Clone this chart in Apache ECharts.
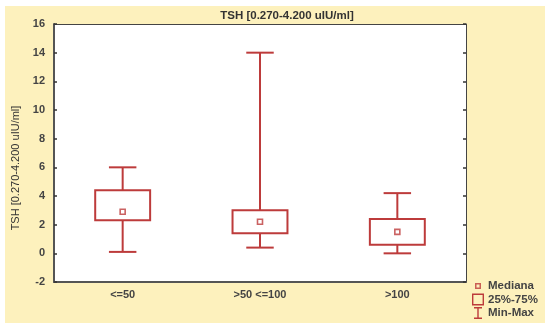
<!DOCTYPE html>
<html>
<head>
<meta charset="utf-8">
<script src="https://cdn.jsdelivr.net/npm/echarts@6/dist/echarts.min.js"></script>
<style>html,body{margin:0;padding:0;background:#fff}#c{width:550px;height:328px}</style>
</head>
<body>
<div id="c"></div>
<script>
var categories = ['<=50', '>50 <=100', '>100'];
var minVals = [0.1, 0.4, 0.0];
var q1Vals = [2.3, 1.4, 0.6];
var medianVals = [2.9, 2.2, 1.5];
var q3Vals = [4.4, 3.0, 2.4];
var maxVals = [6.0, 14.0, 4.2];
var titleText = 'TSH [0.270-4.200 uIU/ml]';
var yName = 'TSH [0.270-4.200 uIU/ml]';

var RED = '#bd3b3b';
var FONT = '"Liberation Sans", Arial, sans-serif';

var boxData = categories.map(function (c, i) { return [i, q1Vals[i], q3Vals[i]]; });
var whiskerData = categories.map(function (c, i) { return [i, minVals[i], q1Vals[i], q3Vals[i], maxVals[i]]; });
var medData = categories.map(function (c, i) { return [i, medianVals[i]]; });

var chart = echarts.init(document.getElementById('c'), null, {renderer: 'canvas'});
chart.setOption({
  backgroundColor: '#ffffff',
  animation: false,
  graphic: [{
    type: 'rect', z: -100, silent: true,
    shape: {x: 5, y: 6, width: 540, height: 317},
    style: {fill: '#fdf1bd'}
  }],
  title: {
    text: titleText, left: 282, top: 5, textAlign: 'center',
    textStyle: {fontFamily: FONT, fontSize: 11.5, fontWeight: 'bold', color: '#333'}
  },
  legend: {
    orient: 'vertical', left: 472, top: 280, height: 46, padding: 0,
    itemWidth: 12, itemHeight: 12, itemGap: 1.5,
    textStyle: {fontFamily: FONT, fontSize: 11.5, fontWeight: 'bold', color: '#444', padding: [0, 0, 0, -1]},
    data: [
      {name: 'Mediana', icon: 'path://M0,0L0,0M12,12L12,12M3,3H9V9H3ZM4.5,4.5V7.5H7.5V4.5Z', itemStyle: {color: RED, borderWidth: 0}},
      {name: '25%-75%', icon: 'path://M0,0H12V12H0ZM1.4,1.4V10.6H10.6V1.4Z', itemStyle: {color: RED, borderWidth: 0}},
      {name: 'Min-Max', icon: 'path://M2,0H10V1.4H2ZM5.3,0H6.7V12H5.3ZM2,10.6H10V12H2Z', itemStyle: {color: RED, borderWidth: 0}}
    ]
  },
  grid: {left: 54, top: 24, right: 84, bottom: 46, show: true, backgroundColor: '#ffffff', borderWidth: 0},
  xAxis: [{
    type: 'category', data: categories, position: 'bottom', boundaryGap: true,
    axisLine: {onZero: false, lineStyle: {color: '#555', width: 2}},
    axisTick: {inside: true, alignWithLabel: true, length: 3, lineStyle: {color: '#333', width: 1.5}},
    axisLabel: {fontFamily: FONT, fontSize: 11, fontWeight: 'bold', color: '#444', margin: 7},
    splitLine: {show: false}
  }, {
    type: 'category', data: categories, position: 'top', boundaryGap: true,
    axisLine: {onZero: false, lineStyle: {color: '#444', width: 1}},
    axisTick: {inside: true, alignWithLabel: true, length: 3, lineStyle: {color: '#333', width: 1.5}},
    axisLabel: {show: false}, splitLine: {show: false}
  }],
  yAxis: [{
    type: 'value', min: -2, max: 16, interval: 2, position: 'left',
    name: yName, nameLocation: 'middle', nameGap: 33, nameRotate: 90,
    nameTextStyle: {fontFamily: FONT, fontSize: 11, color: '#333', padding: [0, 30, 0, 0]},
    axisLine: {show: true, onZero: false, lineStyle: {color: '#555', width: 2}},
    axisTick: {show: true, inside: true, length: 3, lineStyle: {color: '#333', width: 1.5}},
    axisLabel: {fontFamily: FONT, fontSize: 11, fontWeight: 'bold', color: '#444', margin: 9},
    splitLine: {show: false}
  }, {
    type: 'value', min: -2, max: 16, interval: 2, position: 'right',
    axisLine: {show: true, onZero: false, lineStyle: {color: '#444', width: 1}},
    axisTick: {show: true, inside: true, length: 3, lineStyle: {color: '#333', width: 1.5}},
    axisLabel: {show: false}, splitLine: {show: false}
  }],
  series: [{
    name: 'Min-Max', type: 'custom', data: whiskerData, z: 2,
    itemStyle: {color: RED},
    renderItem: function (params, api) {
      var x = api.value(0);
      var pMin = api.coord([x, api.value(1)]);
      var pQ1 = api.coord([x, api.value(2)]);
      var pQ3 = api.coord([x, api.value(3)]);
      var pMax = api.coord([x, api.value(4)]);
      var band = api.size([1, 0])[0];
      var cw = band * 0.2;
      var st = {stroke: RED, lineWidth: 2, fill: null};
      return {type: 'group', children: [
        {type: 'line', shape: {x1: pMax[0], y1: pMax[1], x2: pQ3[0], y2: pQ3[1]}, style: st},
        {type: 'line', shape: {x1: pQ1[0], y1: pQ1[1], x2: pMin[0], y2: pMin[1]}, style: st},
        {type: 'line', shape: {x1: pMax[0] - cw / 2, y1: pMax[1], x2: pMax[0] + cw / 2, y2: pMax[1]}, style: st},
        {type: 'line', shape: {x1: pMin[0] - cw / 2, y1: pMin[1], x2: pMin[0] + cw / 2, y2: pMin[1]}, style: st}
      ]};
    }
  }, {
    name: '25%-75%', type: 'custom', data: boxData, z: 3,
    itemStyle: {color: RED},
    renderItem: function (params, api) {
      var x = api.value(0);
      var pLo = api.coord([x, api.value(1)]);
      var pHi = api.coord([x, api.value(2)]);
      var band = api.size([1, 0])[0];
      var bw = band * 0.4;
      return {type: 'rect', shape: {x: pLo[0] - bw / 2, y: pHi[1], width: bw, height: pLo[1] - pHi[1]},
        style: {stroke: RED, lineWidth: 2, fill: 'rgba(255,255,255,0)'}};
    }
  }, {
    name: 'Mediana', type: 'scatter', data: medData, z: 4,
    symbol: 'rect', symbolSize: 5,
    itemStyle: {color: '#ffffff', borderColor: RED, borderWidth: 1.6}
  }]
});
</script>
</body>
</html>
